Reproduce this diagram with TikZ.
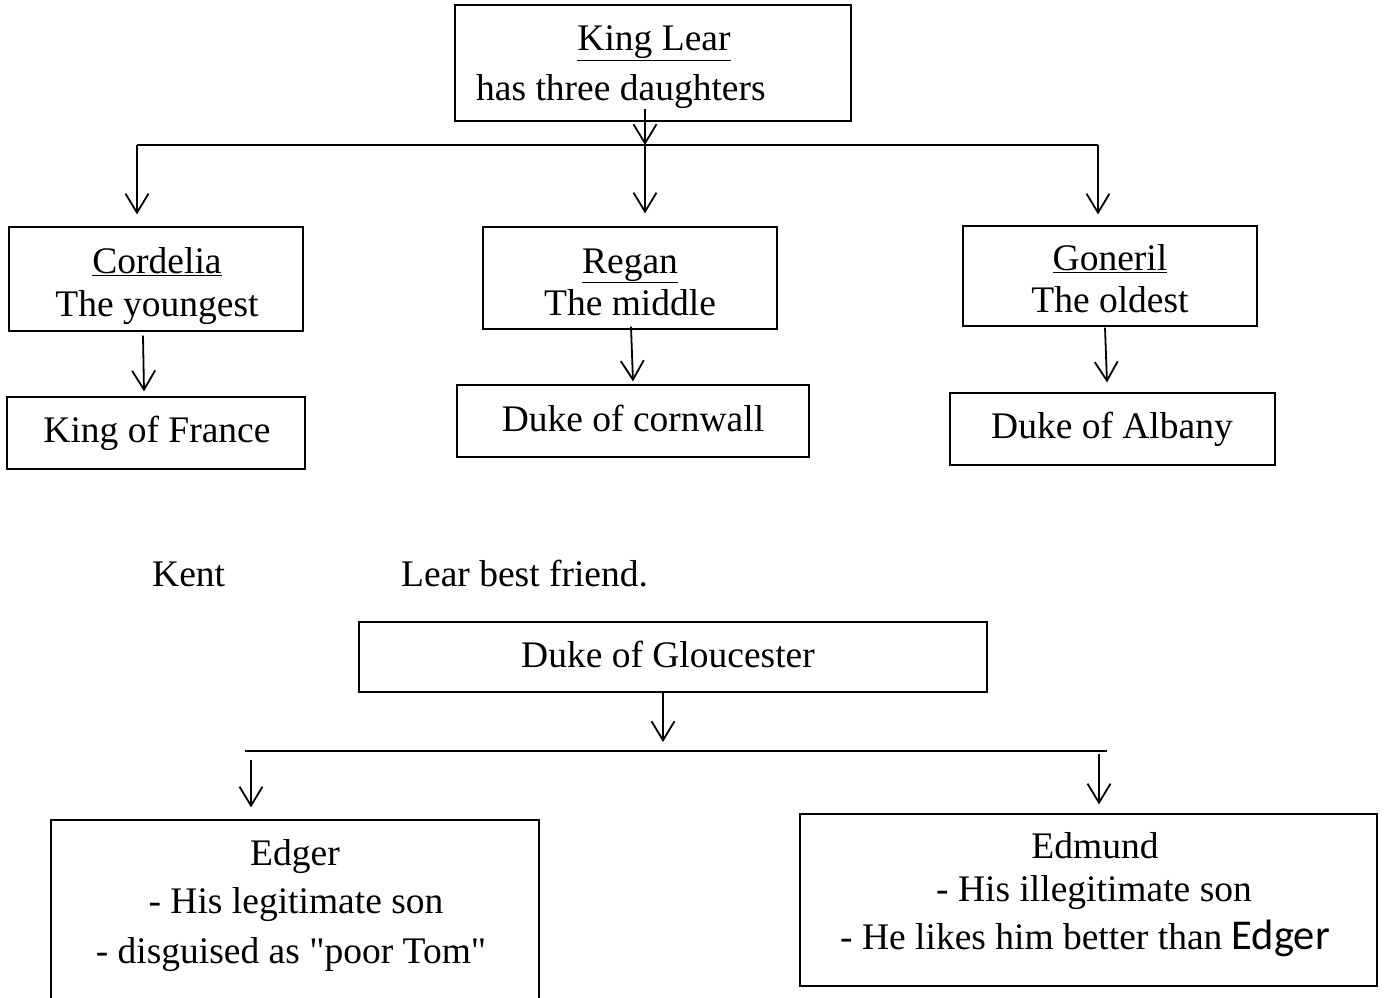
\documentclass[tikz,border=0pt]{standalone}
\usepackage{fontspec}
\setmainfont{Liberation Serif}[Ligatures=TeXOff]
\newfontfamily\sansE{Carlito}
\usetikzlibrary{arrows.meta}
\begin{document}
\begin{tikzpicture}[x=1pt,y=-1pt,
  box/.style={draw, line width=1.2pt, inner sep=0pt, rectangle},
  txt/.style={inner sep=0pt, anchor=base, font=\fontsize{37.5}{45}\selectfont},
  arr/.style={line width=1.8pt, -{Straight Barb[length=19pt,width=23pt,line width=1.8pt]}},
  bus/.style={line width=1.2pt}]
\clip (0,0) rectangle (1398,998);
\fill[white] (0,0) rectangle (1398,998);

% ---- boxes
\node[box, minimum width=396pt, minimum height=116pt] (lear) at (653,63) {};
\node[box, minimum width=294pt, minimum height=104pt] (cord) at (156,279) {};
\node[box, minimum width=298pt, minimum height=72pt] (france) at (156,433) {};
\node[box, minimum width=294pt, minimum height=102pt] (regan) at (630,278) {};
\node[box, minimum width=352pt, minimum height=72pt] (cornwall) at (633,421) {};
\node[box, minimum width=294pt, minimum height=100pt] (gon) at (1110,276) {};
\node[box, minimum width=325pt, minimum height=72pt] (albany) at (1112.5,429) {};
\node[box, minimum width=628pt, minimum height=70pt] (glou) at (673,657) {};
\node[box, minimum width=488pt, minimum height=190pt] (edger) at (295,915) {};
\node[box, minimum width=577pt, minimum height=172pt] (edmund) at (1088.5,900) {};

% ---- texts
\node[txt] (lear1) at (654,51) {\underline{King Lear}};
\node[txt, anchor=base west] (lear2) at (476,100) {has three daughters};
\node[txt] (cord1) at (157,273) {\underline{Cordelia}};
\node[txt] (cord2) at (157,316) {The youngest};
\node[txt] (france1) at (157,442) {King of France};
\node[txt] (regan1) at (630,273) {\underline{Regan}};
\node[txt] (regan2) at (630,315) {The middle};
\node[txt] (cornwall1) at (633,431) {Duke of cornwall};
\node[txt] (gon1) at (1110,270) {\underline{Goneril}};
\node[txt] (gon2) at (1110,312) {The oldest};
\node[txt] (albany1) at (1112,438) {Duke of Albany};
\node[txt, anchor=base west] (kent) at (152,586) {Kent};
\node[txt, anchor=base west] (kentdesc) at (401,586) {Lear best friend.};
\node[txt] (glou1) at (668,667) {Duke of Gloucester};
\node[txt] (edger1) at (295,865) {Edger};
\node[txt] (edger2) at (296,913) {- His legitimate son};
\node[txt] (edger3) at (291,963) {- disguised as "poor Tom"};
\node[txt] (edmund1) at (1095,858) {Edmund};
\node[txt] (edmund2) at (1094,901) {- His illegitimate son};
\node[txt] (edmund3) at (1085,949) {- He likes him better than {\sansE\fontsize{42.5}{45}\selectfont Edger}};

% ---- top connectors
\coordinate (busL) at (137,145);
\coordinate (busM) at (645,145);
\coordinate (busR) at (1098,145);
\draw[bus] (busL) -- (busR);
\draw[arr] ([xshift=-8pt,yshift=13pt]lear.south) -- (busM);
\draw[arr] (busM) -- ([yshift=13pt]regan.north -| busM);
\draw[arr] (busL) -- ([yshift=12pt]cord.north -| busL);
\draw[arr] (busR) -- ([yshift=11pt]gon.north -| busR);
\draw[arr] ([xshift=-13pt,yshift=-4pt]cord.south) -- ([xshift=-12pt,yshift=5pt]france.north);
\draw[arr] ([xshift=1pt,yshift=3pt]regan.south) -- ([xshift=0pt,yshift=3pt]cornwall.north);
\draw[arr] ([xshift=-5pt,yshift=-1pt]gon.south) -- ([xshift=-5.5pt,yshift=10pt]albany.north);

% ---- bottom connectors
\coordinate (gtip) at (663,742);
\coordinate (b2L) at (245,751);
\coordinate (b2R) at (1107,751);
\coordinate (e0) at (251,760);
\coordinate (d0) at (1099,754);
\draw[arr] ([xshift=-10pt]glou.south) -- (gtip);
\draw[bus] (b2L) -- (b2R);
\draw[arr] (e0) -- ([yshift=12pt]edger.north -| e0);
\draw[arr] (d0) -- ([yshift=9pt]edmund.north -| d0);
\end{tikzpicture}
\end{document}
